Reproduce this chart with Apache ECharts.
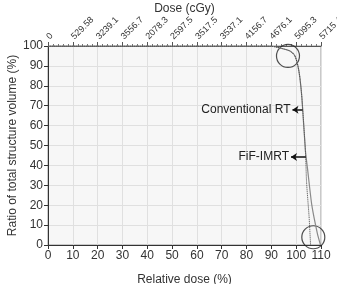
<!DOCTYPE html>
<html>
<head>
<meta charset="utf-8">
<script src="https://cdn.jsdelivr.net/npm/echarts@6/dist/echarts.min.js"></script>
<style>
    html, body { margin: 0; padding: 0; background: #fff; }
    #chart1 { width: 337px; height: 284px; }
</style>
</head>
<body>
<div id="chart1"></div>
<script>
// relative dose (%) and volume (%)
var convDose = [0, 80, 89.4, 93.5, 97.5, 99.5, 100.7, 101.5, 102.3, 103.7, 104.6, 106.3, 108.5, 109.8]
var convVol = [100, 100, 100, 99, 97.5, 95, 90, 84, 74, 47.7, 38, 20, 6, 0]
var fifDose = [0, 80, 89.4, 93.5, 97.5, 99.5, 100.7, 101.5, 102.3, 103.7, 104.2, 105.2, 105.8]
var fifVol = [100, 100, 100, 99, 97.5, 95, 90, 84, 74, 47.7, 31.2, 14.2, 0]
// top axis labels, one per 10 % tick
var doseLabels = ['0', '529.58', '3239.1', '3556.7', '2078.3', '2597.5', '3517.5', '3537.1', '4156.7', '4676.1', '5095.3', '5715.4']
// circled regions
var circleX = [96.7, 106.9]
var circleY = [95, 3.9]

function pairs (xs, ys) {
    return xs.map(function (x, i) { return [x, ys[i]] })
}

var font = 'Liberation Sans, Arial, sans-serif'
var myChart = echarts.init(document.getElementById('chart1'))
var option = {
    animation: false,
    textStyle: { fontFamily: font },
    grid: {
        left: 48,
        right: 16,
        top: 46,
        bottom: 39,
        outerBoundsMode: 'none',
        containLabel: false,
        show: true,
        backgroundColor: '#f7f7f7',
        borderColor: '#9a9a9a',
        borderWidth: 1
    },
    xAxis: [{
        type: 'value',
        position: 'bottom',
        min: 0,
        max: 110,
        interval: 10,
        name: 'Relative dose (%)',
        nameLocation: 'middle',
        nameGap: 29,
        nameMoveOverlap: false,
        nameTextStyle: { color: '#333', fontSize: 12, fontFamily: font },
        axisLine: { lineStyle: { color: '#333' } },
        axisTick: { show: true, length: 4, lineStyle: { color: '#333' } },
        axisLabel: { color: '#333', fontSize: 12, margin: 5, fontFamily: font },
        splitLine: { show: true, lineStyle: { color: '#e0e0e0' } }
    }, {
        type: 'value',
        position: 'top',
        min: 0,
        max: 110,
        interval: 10,
        name: 'Dose (cGy)',
        nameLocation: 'middle',
        nameGap: 31,
        nameMoveOverlap: false,
        nameTextStyle: { color: '#333', fontSize: 12, fontFamily: font },
        axisLine: { lineStyle: { color: '#555' } },
        axisTick: { show: true, length: 4, lineStyle: { color: '#555' } },
        minorTick: { show: true, splitNumber: 5, length: 2, lineStyle: { color: '#777' } },
        axisLabel: {
            color: '#333',
            fontSize: 9,
            rotate: -45,
            margin: 8,
            hideOverlap: false,
            fontFamily: font,
            formatter: function (v) { return doseLabels[Math.round(v / 10)] }
        },
        splitLine: { show: false }
    }],
    yAxis: [{
        type: 'value',
        min: 0,
        max: 100,
        interval: 10,
        name: 'Ratio of total structure volume (%)',
        nameLocation: 'middle',
        nameGap: 29,
        nameMoveOverlap: false,
        nameTextStyle: { color: '#333', fontSize: 12, fontFamily: font },
        axisLine: { show: true, lineStyle: { color: '#333' } },
        axisTick: { show: true, length: 4, lineStyle: { color: '#333' } },
        axisLabel: { color: '#333', fontSize: 12, margin: 5, fontFamily: font },
        splitLine: { show: true, lineStyle: { color: '#e0e0e0' } }
    }],
    series: [
        {
            name: 'Conventional RT',
            type: 'line',
            smooth: 0.2,
            showSymbol: false,
            lineStyle: { color: '#8a8a8a', width: 1.2 },
            data: pairs(convDose, convVol),
            markLine: {
                silent: true,
                symbol: ['arrow', 'none'],
                symbolSize: 6,
                lineStyle: { color: '#111', width: 1.5, type: 'solid' },
                label: { show: true, position: 'start', distance: 2, color: '#222', fontSize: 12, fontFamily: font, formatter: 'Conventional RT' },
                data: [[{ coord: [98.5, 68] }, { coord: [102.6, 68] }]]
            }
        },
        {
            name: 'FiF-IMRT',
            type: 'line',
            smooth: 0.2,
            showSymbol: false,
            lineStyle: { color: '#444', width: 1, type: 'dotted' },
            data: pairs(fifDose, fifVol),
            markLine: {
                silent: true,
                symbol: ['arrow', 'none'],
                symbolSize: 6,
                lineStyle: { color: '#111', width: 1.5, type: 'solid' },
                label: { show: true, position: 'start', distance: 2, color: '#222', fontSize: 12, fontFamily: font, formatter: 'FiF-IMRT' },
                data: [[{ coord: [97.9, 44.2] }, { coord: [103.9, 44.2] }]]
            }
        },
        {
            name: 'circles',
            type: 'scatter',
            symbol: 'circle',
            symbolSize: 23,
            itemStyle: { color: 'rgba(0,0,0,0)', borderColor: '#222', borderWidth: 1.2 },
            data: pairs(circleX, circleY)
        }
    ]
}
myChart.setOption(option)
</script>
</body>
</html>
